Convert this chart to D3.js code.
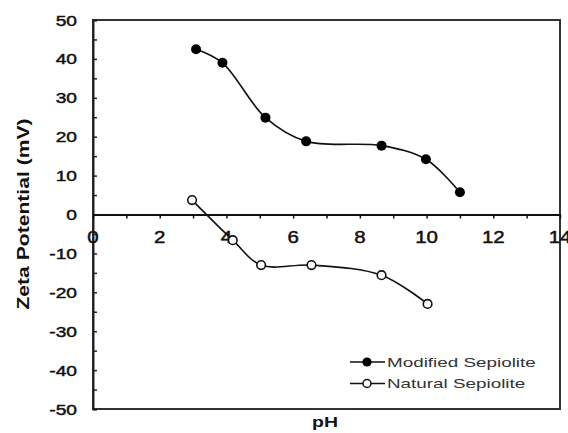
<!DOCTYPE html>
<html>
<head>
<meta charset="utf-8">
<script src="https://cdn.jsdelivr.net/npm/d3@7"></script>
<style>
  body { margin: 0; background: #fff; }
  svg { display: block; font-family: "Liberation Sans", Arial, sans-serif; }
</style>
</head>
<body>
<div class="svg-container"></div>
<script>
// Data
const modifiedPH = [3.09, 3.88, 5.17, 6.39, 8.65, 9.98, 11.0];
const modifiedZeta = [42.5, 39.0, 24.9, 18.8, 17.7, 14.2, 5.7];
const naturalPH = [2.97, 4.19, 5.04, 6.55, 8.65, 10.03];
const naturalZeta = [3.7, -6.6, -13.0, -13.0, -15.6, -23.0];
const xTickLabels = [0, 2, 4, 6, 8, 10, 12, 14];
const yTickLabels = [50, 40, 30, 20, 10, 0, -10, -20, -30, -40, -50];
const legendNames = ["Modified Sepiolite", "Natural Sepiolite"];

// Global Variables
const canvasWidth = 568;
const canvasHeight = 433;
const plot = { left: 93, right: 560, top: 20, bottom: 409 };
const stretch = 1.28; // the text in the picture is drawn wide

const svg = d3.select(".svg-container")
    .append("svg")
    .attr("width", canvasWidth)
    .attr("height", canvasHeight);

// Scales X - Y
const xScale = d3.scaleLinear().domain([0, 14]).range([plot.left, plot.right]);
const yScale = d3.scaleLinear().domain([-50, 50]).range([plot.bottom, plot.top]);

// helper for wide text
function wideText(g, x, y, txt, anchor, size, weight, sx, rot) {
    return g.append("text")
        .attr("transform", `translate(${x},${y})` + (rot ? ` rotate(${rot})` : "") + ` scale(${sx},1)`)
        .attr("text-anchor", anchor)
        .attr("font-size", size)
        .attr("font-weight", weight || "normal")
        .attr("fill", "#111")
        .text(txt);
}

// frame
svg.append("rect")
    .attr("x", plot.left)
    .attr("y", plot.top)
    .attr("width", plot.right - plot.left)
    .attr("height", plot.bottom - plot.top)
    .attr("fill", "none")
    .attr("stroke", "#333")
    .attr("stroke-width", 2);

// Y axis, ticks pointing inside
const yAxis = d3.axisLeft(yScale)
    .tickValues(d3.range(-50, 51, 5))
    .tickSize(-4)
    .tickFormat("");
svg.append("g")
    .attr("transform", `translate(${plot.left},0)`)
    .call(yAxis)
    .call(g => g.select(".domain").attr("stroke", "#222").attr("stroke-width", 2))
    .call(g => g.selectAll(".tick line").attr("stroke", "#222").attr("stroke-width", 1.5));

const yLab = svg.append("g").attr("stroke", "#111").attr("stroke-width", 0.45);
yTickLabels.forEach(v => {
    wideText(yLab, 77, yScale(v) + 5.5, v, "end", 15, "normal", stretch);
});

// X axis on the zero line
const xAxis = d3.axisBottom(xScale)
    .tickValues(d3.range(0, 15, 1))
    .tickSize(4)
    .tickSizeOuter(0)
    .tickFormat("");

const xLab = svg.append("g").attr("stroke", "#111").attr("stroke-width", 0.45);
xTickLabels.forEach(v => {
    wideText(xLab, xScale(v), 243, v, "middle", 16, "normal", stretch);
});

svg.append("g")
    .attr("transform", `translate(0,${yScale(0)})`)
    .call(xAxis)
    .call(g => g.select(".domain").attr("stroke", "#111").attr("stroke-width", 2))
    .call(g => g.selectAll(".tick line").attr("stroke", "#111").attr("stroke-width", 1.5));

// axis titles
wideText(svg, 23, 214, "Zeta Potential (mV)", "middle", 16, "bold", 1.32, -90)
    .attr("dy", "0.35em");
wideText(svg, 325, 427, "pH", "middle", 15, "bold", 1.3);

// lines
const line = d3.line()
    .x(d => xScale(d[0]))
    .y(d => yScale(d[1]))
    .curve(d3.curveCatmullRom.alpha(0.5));

const modified = modifiedPH.map((p, i) => [p, modifiedZeta[i]]);
const natural = naturalPH.map((p, i) => [p, naturalZeta[i]]);

[modified, natural].forEach(s => {
    svg.append("path")
        .datum(s)
        .attr("d", line)
        .attr("fill", "none")
        .attr("stroke", "#111")
        .attr("stroke-width", 1.6);
});

svg.append("g")
    .selectAll("circle")
    .data(modified)
    .enter()
    .append("circle")
    .attr("cx", d => xScale(d[0]))
    .attr("cy", d => yScale(d[1]))
    .attr("r", 5)
    .attr("fill", "#000");

svg.append("g")
    .selectAll("circle")
    .data(natural)
    .enter()
    .append("circle")
    .attr("cx", d => xScale(d[0]))
    .attr("cy", d => yScale(d[1]))
    .attr("r", 4.3)
    .attr("fill", "#fff")
    .attr("stroke", "#111")
    .attr("stroke-width", 1.6);

// Legend
const legend = svg.append("g");
legendNames.forEach((name, i) => {
    const ly = 362 + i * 21.5;
    legend.append("line")
        .attr("x1", 350).attr("x2", 385)
        .attr("y1", ly).attr("y2", ly)
        .attr("stroke", "#111")
        .attr("stroke-width", 1.6);
    legend.append("circle")
        .attr("cx", 367).attr("cy", ly)
        .attr("r", i === 0 ? 4.6 : 4)
        .attr("fill", i === 0 ? "#000" : "#fff")
        .attr("stroke", "#111")
        .attr("stroke-width", i === 0 ? 0 : 1.5);
    wideText(legend, 387, ly + 4.5, name, "start", 13, "normal", 1.45)
        .attr("fill", "#333");
});
</script>
</body>
</html>
